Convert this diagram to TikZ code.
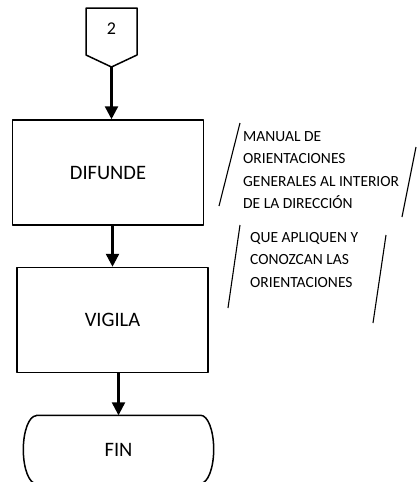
\documentclass[tikz,border=0pt]{standalone}
\usepackage{fontspec}
\setmainfont{Carlito}
\usetikzlibrary{arrows.meta}
\begin{document}
\begin{tikzpicture}[x=1pt,y=-1pt,line join=round,
	proceso/.style={draw,line width=1.5pt,minimum width=191pt,minimum height=105pt,font=\fontsize{20.5}{24}\selectfont},
	flecha/.style={line width=2.4pt,-{Triangle[length=13pt,width=13pt]}},
	nota/.style={align=left,inner sep=0pt,anchor=north west,font=\fontsize{15.5}{22.6}\selectfont},
	corchete/.style={line width=1.1pt}]
	\useasboundingbox (0,0) rectangle (417,482);
	% conector de pagina
	\draw[line width=1.5pt] (86,8)--(137,8)--(137,55)--(111.5,67)--(86,55)--cycle;
	\node[font=\fontsize{18}{20}\selectfont] (conector) at (111.5,29) {2};
	\coordinate (punta) at (111.5,67);
	\node[proceso] (difunde) at (108,172.5) {DIFUNDE};
	\node[proceso] (vigila) at (112.5,320) {VIGILA};
	\node[minimum width=190pt,minimum height=68pt,font=\fontsize{20.5}{24}\selectfont] (fin) at (118.5,449.5) {FIN};
	\draw[line width=1.5pt] ([xshift=13pt]fin.north west)--([xshift=-13pt]fin.north east)
		arc[start angle=90,end angle=-90,x radius=13pt,y radius=34pt]
		--([xshift=13pt]fin.south west)
		arc[start angle=270,end angle=90,x radius=13pt,y radius=34pt]--cycle;
	\draw[flecha] (punta)--(punta |- difunde.north);
	\draw[flecha] (vigila.north |- difunde.south)--(vigila.north);
	\draw[flecha] (fin.north |- vigila.south)--(fin.north);
	% anotaciones
	\node[nota] (manual) at (243,131) {MANUAL DE\\ORIENTACIONES\\GENERALES AL INTERIOR\\DE LA DIRECCIÓN};
	\node[nota] (aplicar) at (250,232) {QUE APLIQUEN Y\\CONOZCAN LAS\\ORIENTACIONES};
	\draw[corchete] (240,123)--(219,206);
	\draw[corchete] (416,147)--(402,217);
	\draw[corchete] (240,225)--(228,308);
	\draw[corchete] (386,235)--(373,323);
\end{tikzpicture}
\end{document}
